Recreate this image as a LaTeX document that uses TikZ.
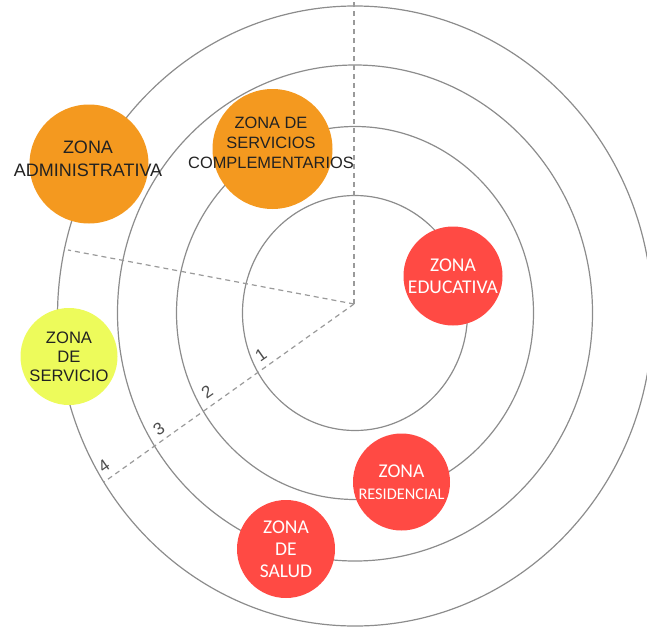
\documentclass[tikz,border=0pt]{standalone}
\usepackage{fontspec}
\setmainfont{Liberation Sans}
\newfontfamily\carl{Carlito}
\definecolor{ringgray}{HTML}{8C8C8C}
\definecolor{dashgray}{HTML}{9A9A9A}
\definecolor{zorange}{HTML}{F4991F}
\definecolor{zred}{HTML}{FF4A44}
\definecolor{zyellow}{HTML}{EDFB5B}
\definecolor{txtdark}{HTML}{222222}
\tikzset{
  ring/.style={draw=ringgray, line width=1.2pt},
  guide/.style={draw=dashgray, line width=1.2pt, dash pattern=on 5pt off 4pt},
  zone/.style={circle, inner sep=0pt, draw=none, align=center},
  darktext/.style={text=txtdark, font=\fontsize{18}{22.5}\selectfont},
  whitetext/.style={text=white, font=\carl\fontsize{19.5}{22}\selectfont},
  ringnum/.style={text=black!70, font=\fontsize{17}{17}\selectfont, rotate=35, inner sep=0pt}
}
\begin{document}
\begin{tikzpicture}[x=1pt, y=-1pt]
\useasboundingbox (0,0) rectangle (647,629);
\clip (0,0) rectangle (647,629);
% rings
\coordinate (C) at (355,313);
\coordinate (C4) at (355,316);
\draw[ring] (C) ellipse [x radius=112.5pt, y radius=117.5pt];
\draw[ring] (C) ellipse [x radius=178.5pt, y radius=186.5pt];
\draw[ring] (C) ellipse [x radius=237.5pt, y radius=248pt];
\draw[ring] (C4) ellipse [x radius=297.5pt, y radius=310pt];
% guides
\coordinate (O) at (354,304);
\coordinate (top) at (354,0);
\coordinate (lft) at (68,250);
\coordinate (dl) at (104,482);
\draw[guide] (O) -- (top);
\draw[guide] (O) -- (lft);
\draw[guide] (O) -- (dl);
% ring numbers
\node[ringnum] (n1) at (261,355) {1};
\node[ringnum] (n2) at (207,392) {2};
\node[ringnum] (n3) at (159,429) {3};
\node[ringnum] (n4) at (104,466) {4};
% zones
\node[zone, fill=zorange, minimum size=119pt] (adm) at (89,164) {};
\node[darktext, align=center] (admt) at (88,159) {ZONA\\ADMINISTRATIVA};
\node[zone, fill=zorange, minimum size=120pt] (comp) at (272.5,149) {};
\node[align=center, text=txtdark, font=\fontsize{16.4}{20}\selectfont] (compt) at (271,142.5) {ZONA DE\\SERVICIOS\\COMPLEMENTARIOS};
\node[zone, fill=zyellow, minimum size=97pt, text=txtdark, font=\fontsize{16.6}{19}\selectfont] (serv) at (69,356.5) {ZONA\\DE\\SERVICIO};
\node[zone, fill=zred, minimum size=99pt, whitetext] (edu) at (453,276) {ZONA\\EDUCATIVA};
\node[zone, fill=zred, minimum size=97pt, whitetext] (res) at (401.5,482) {ZONA\\{\fontsize{16.3}{22}\selectfont RESIDENCIAL}};
\node[zone, fill=zred, minimum size=98pt, whitetext] (sal) at (286,549) {ZONA\\DE\\SALUD};
\end{tikzpicture}
\end{document}
